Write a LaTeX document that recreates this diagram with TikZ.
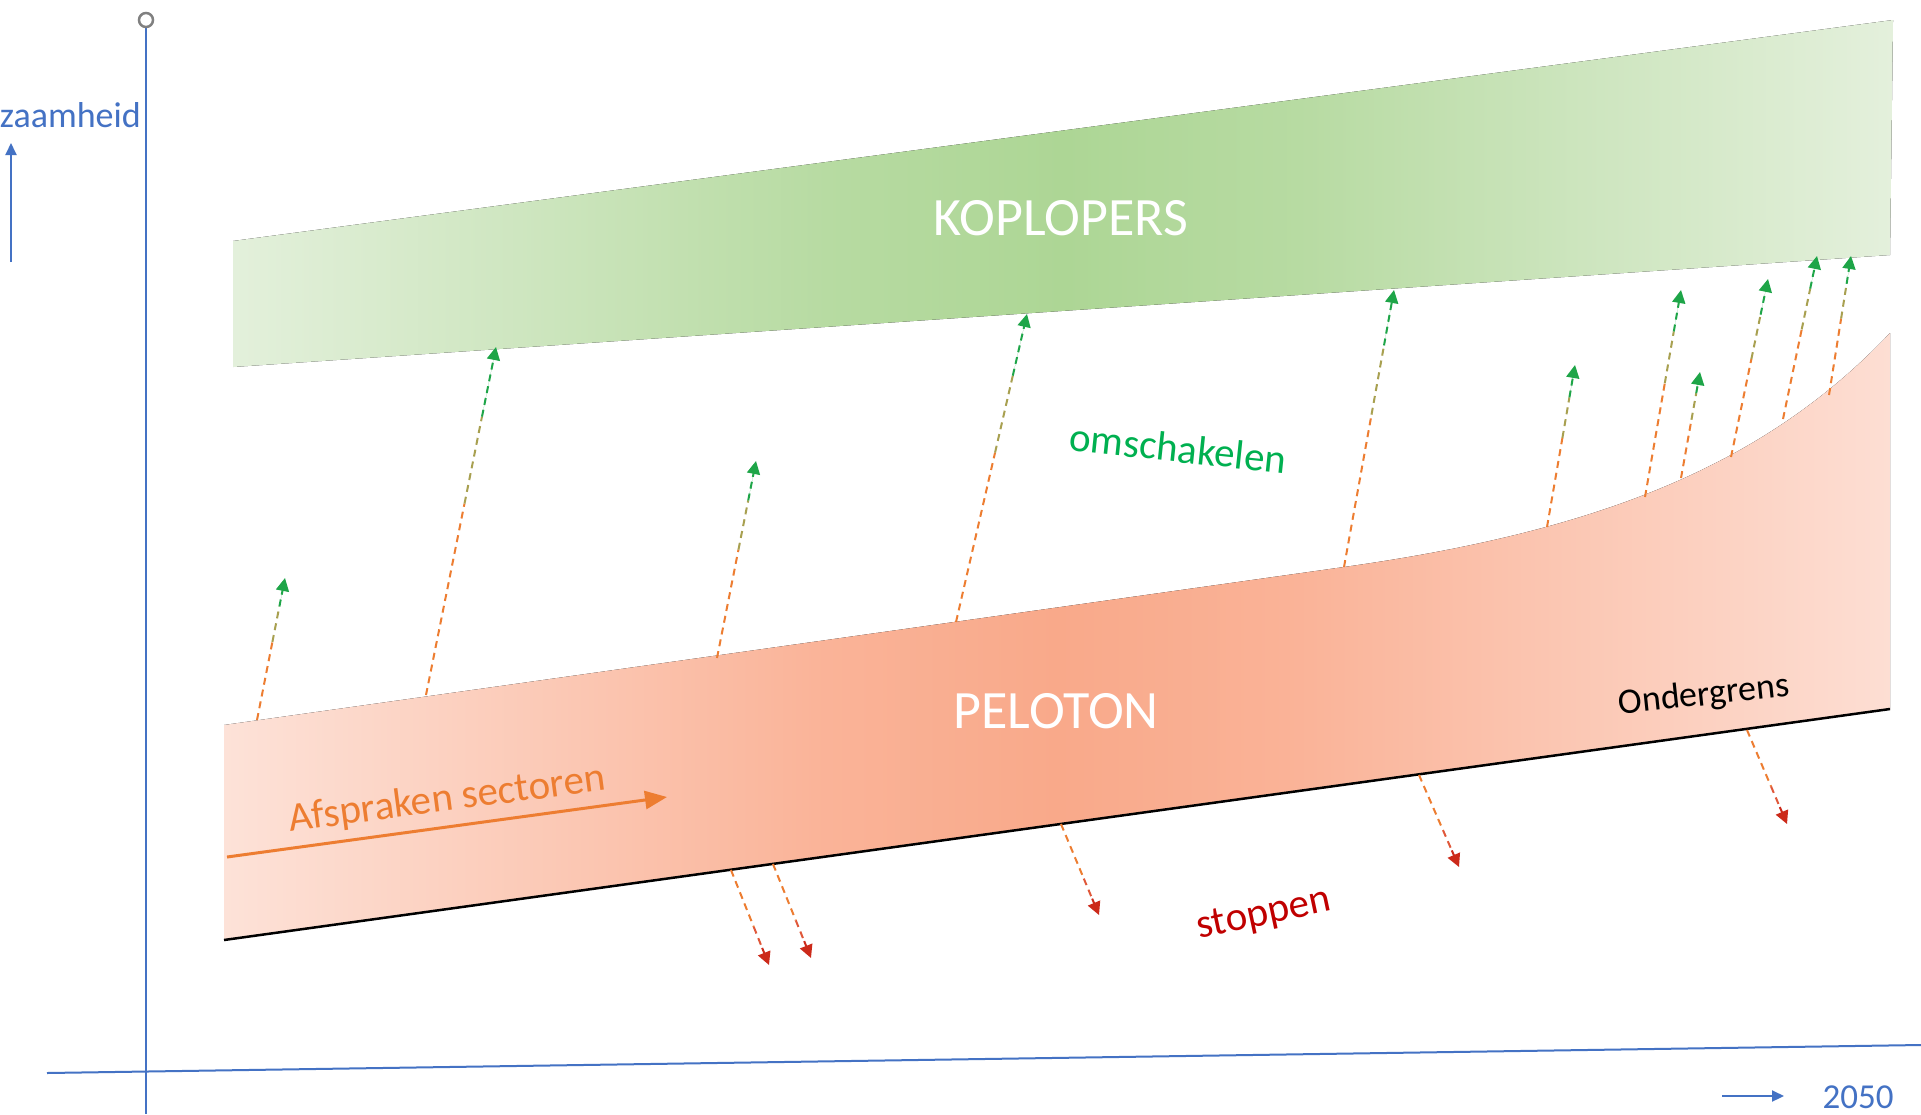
\documentclass[tikz,border=0pt]{standalone}
\usepackage{fontspec}
\setmainfont{Carlito}
\usetikzlibrary{arrows.meta,calc}
\definecolor{axisblue}{HTML}{4472C4}
\definecolor{circgray}{HTML}{808080}
\definecolor{grnL}{HTML}{E3F0DB}
\definecolor{grnM}{HTML}{ADD695}
\definecolor{grnR}{HTML}{E4F0DC}
\definecolor{pelL}{HTML}{FDE2D8}
\definecolor{pelM}{HTML}{F9A98A}
\definecolor{pelR}{HTML}{FDDED3}
\colorlet{grnA}{grnL!55!grnM}
\colorlet{grnB}{grnL!18!grnM}
\colorlet{grnC}{grnR!18!grnM}
\colorlet{grnD}{grnR!55!grnM}
\colorlet{pelA}{pelL!55!pelM}
\colorlet{pelB}{pelL!18!pelM}
\colorlet{pelC}{pelR!18!pelM}
\colorlet{pelD}{pelR!55!pelM}
\pgfdeclarehorizontalshading{grnshade}{100bp}{color(0bp)=(grnL); color(25bp)=(grnL); color(35bp)=(grnA); color(43bp)=(grnB); color(50bp)=(grnM); color(57bp)=(grnC); color(65bp)=(grnD); color(75bp)=(grnR); color(100bp)=(grnR)}
\pgfdeclarehorizontalshading{pelshade}{100bp}{color(0bp)=(pelL); color(25bp)=(pelL); color(35bp)=(pelA); color(43bp)=(pelB); color(50bp)=(pelM); color(57bp)=(pelC); color(65bp)=(pelD); color(75bp)=(pelR); color(100bp)=(pelR)}
\definecolor{arrorange}{HTML}{ED7D31}
\definecolor{arrolive}{HTML}{A8A050}
\definecolor{arrgreen}{HTML}{1EA548}
\definecolor{arrbrown}{HTML}{E0583A}
\definecolor{arrred}{HTML}{CC2A1A}
\definecolor{txtgreen}{HTML}{00B050}
\definecolor{txtred}{HTML}{C00000}
\newcommand\greenarr[2]{%
  \draw[dasharr, draw=arrorange] (#1) -- ($(#1)!0.55!(#2)$);
  \draw[dasharr, draw=arrolive] ($(#1)!0.55!(#2)$) -- ($(#1)!0.8!(#2)$);
  \draw[dasharr, draw=arrgreen, fill=arrgreen, -{Triangle[length=13pt,width=13pt]}] ($(#1)!0.8!(#2)$) -- (#2);
}
\newcommand\redarr[2]{%
  \draw[dasharr, draw=arrorange] (#1) -- ($(#1)!0.6!(#2)$);
  \draw[dasharr, draw=arrbrown] ($(#1)!0.6!(#2)$) -- ($(#1)!0.82!(#2)$);
  \draw[dasharr, draw=arrred, fill=arrred, -{Triangle[length=13pt,width=13pt]}] ($(#1)!0.82!(#2)$) -- (#2);
}
\begin{document}
\begin{tikzpicture}[x=1pt,y=-1pt,
  dasharr/.style={line width=2pt, dash pattern=on 7pt off 5pt},
  axisline/.style={draw=axisblue, line width=2pt},
  bigtxt/.style={text=white, font=\fontsize{54}{60}\selectfont, inner sep=0pt},
  midtxt/.style={font=\fontsize{41}{48}\selectfont, inner sep=0pt},
  smalltxt/.style={font=\fontsize{36}{42}\selectfont, inner sep=0pt, text=axisblue},
  bluearr/.style={draw=axisblue, line width=2pt, -{Triangle[length=12pt,width=11pt]}}
]
\useasboundingbox (0,0) rectangle (1921,1114);
\fill[white] (0,0) rectangle (1921,1114);

% axes
\coordinate (ytop) at (146,27);
\coordinate (ybot) at (146,1114);
\coordinate (xl) at (47,1073);
\coordinate (xr) at (1921,1045);
\draw[axisline] (ytop) -- (ybot);
\draw[axisline] (xl) -- (xr);
\node[circle, draw=circgray, line width=2.5pt, minimum size=14pt, inner sep=0pt] (yc) at (146,20) {};

% axis labels
\node[smalltxt, anchor=east] (ylab) at (141,115) {zaamheid};
\coordinate (ya0) at (11,262);
\coordinate (ya1) at (11,143);
\draw[bluearr] (ya0) -- (ya1);
\node[smalltxt, font=\fontsize{35}{42}\selectfont] (xlab) at (1858,1097) {2050};
\coordinate (xa0) at (1722,1096);
\coordinate (xa1) at (1784,1096);
\draw[bluearr] (xa0) -- (xa1);

% green band
\fill[shading=grnshade, shading angle=0]
  (233,241) -- (1893,20) -- (1890,255) -- (233,367) -- cycle;
\node[bigtxt] (kop) at (1061,218) {KOPLOPERS};

% peloton band
\fill[shading=pelshade, shading angle=0]
  (224,725) -- (1344,567) .. controls (1600,531) and (1765,465) .. (1890,333)
  -- (1890,709) -- (224,940) -- cycle;
\coordinate (og0) at (224,940);
\coordinate (og1) at (1890,709);
\draw[line width=2.5pt, black] (og0) -- (og1);
\node[bigtxt] (pel) at (1056,711) {PELOTON};

% Afspraken sectoren
\coordinate (af0) at (227,857);
\coordinate (af1) at (667,797);
\draw[draw=arrorange, line width=3pt, -{Triangle[length=22pt,width=18pt]}] (af0) -- (af1);
\node[midtxt, text=arrorange, rotate=7.5] (afs) at (447,800) {Afspraken sectoren};

% labels
\node[midtxt, text=txtgreen, rotate=-6] (oms) at (1178,448) {omschakelen};
\node[midtxt, text=txtred, rotate=12] (stop) at (1264,915) {stoppen};
\node[font=\fontsize{36}{42}\selectfont, inner sep=0pt, rotate=6] (ond) at (1704,696) {Ondergrens};

% up arrows
\coordinate (u1b) at (257,720);  \coordinate (u1t) at (285,578);
\coordinate (u2b) at (426,695);  \coordinate (u2t) at (496,347);
\coordinate (u3b) at (717,658);  \coordinate (u3t) at (756,461);
\coordinate (u4b) at (956,622);  \coordinate (u4t) at (1027,314);
\coordinate (u5b) at (1344,567); \coordinate (u5t) at (1394,290);
\coordinate (u6b) at (1547,527); \coordinate (u6t) at (1575,365);
\coordinate (u7b) at (1645,497); \coordinate (u7t) at (1681,290);
\coordinate (u8b) at (1681,478); \coordinate (u8t) at (1700,372);
\coordinate (u9b) at (1731,457); \coordinate (u9t) at (1768,279);
\coordinate (u10b) at (1783,419); \coordinate (u10t) at (1817,256);
\coordinate (u11b) at (1829,395); \coordinate (u11t) at (1851,256);
\greenarr{u1b}{u1t}
\greenarr{u2b}{u2t}
\greenarr{u3b}{u3t}
\greenarr{u4b}{u4t}
\greenarr{u5b}{u5t}
\greenarr{u6b}{u6t}
\greenarr{u7b}{u7t}
\greenarr{u8b}{u8t}
\greenarr{u9b}{u9t}
\greenarr{u10b}{u10t}
\greenarr{u11b}{u11t}

% down arrows
\coordinate (d1b) at (731,870);  \coordinate (d1t) at (769,965);
\coordinate (d2b) at (773,864);  \coordinate (d2t) at (811,958);
\coordinate (d3b) at (1061,824); \coordinate (d3t) at (1099,915);
\coordinate (d4b) at (1419,775); \coordinate (d4t) at (1459,867);
\coordinate (d5b) at (1747,730); \coordinate (d5t) at (1787,824);
\redarr{d1b}{d1t}
\redarr{d2b}{d2t}
\redarr{d3b}{d3t}
\redarr{d4b}{d4t}
\redarr{d5b}{d5t}
\end{tikzpicture}
\end{document}
